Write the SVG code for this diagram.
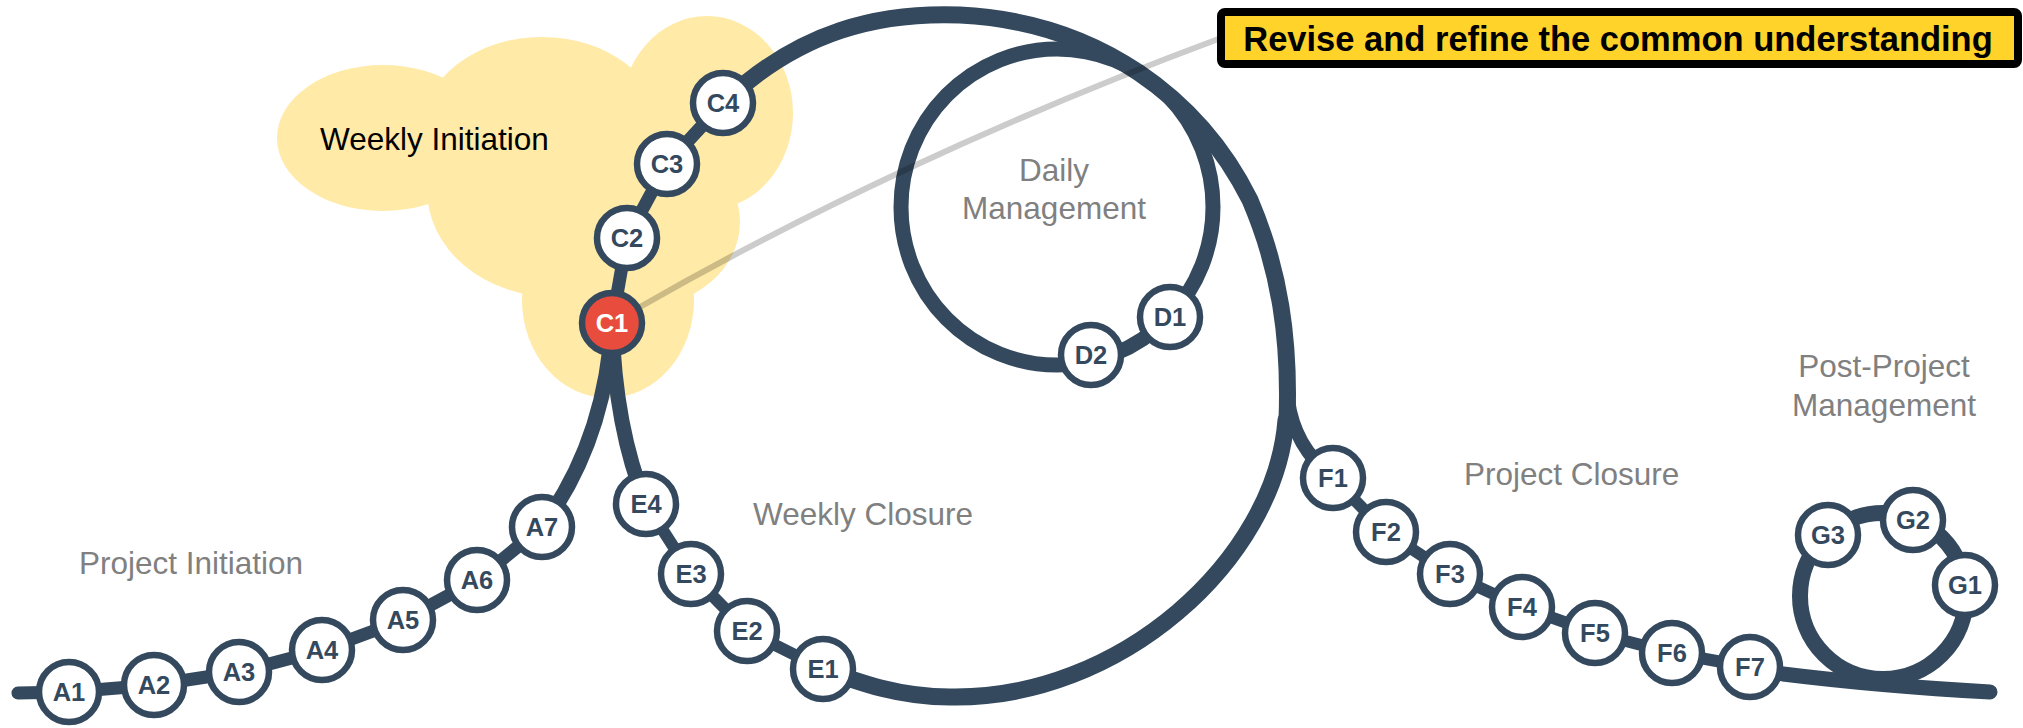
<svg xmlns="http://www.w3.org/2000/svg" width="2023" height="728" viewBox="0 0 2023 728">
<style>
.trk{fill:none;stroke:#34495E;stroke-linecap:round;stroke-linejoin:round}
.node circle{fill:#fff;stroke:#34495E;stroke-width:6.5}
.node text{font-family:"Liberation Sans",Arial,sans-serif;font-weight:bold;font-size:25.5px;fill:#34495E;text-anchor:middle}
.red circle{fill:#E74C3C}
.red text{fill:#fff}
.lbl{font-family:"Liberation Sans",Arial,sans-serif;font-size:31.5px;fill:#808080}
</style>
<rect width="2023" height="728" fill="#fff"/>
<g id="weekly-initiation-cloud" fill="#FFEAA7">
<ellipse cx="383" cy="138" rx="106" ry="73"/>
<ellipse cx="542" cy="130" rx="120" ry="93"/>
<ellipse cx="707" cy="113" rx="86" ry="97"/>
<ellipse cx="555" cy="190" rx="128" ry="107"/>
<ellipse cx="640" cy="222" rx="100" ry="85"/>
<ellipse cx="608" cy="300" rx="86" ry="98"/>
</g>
<g id="connectors">
<path class="trk" stroke-width="13" d="M18 693 L69 692 L154 685 L239 672 L322 650 L403 620 L477 580 L542 527"/>
<path class="trk" stroke-width="15" d="M542 527 C575 482 607 415 612 323"/>
<path class="trk" stroke-width="15" d="M612 323 C614 400 628 460 646 504"/>
<path class="trk" stroke-width="12" d="M646 504 L691 574 L747 631 L823 669"/>
<path class="trk" stroke-width="17" d="M823 669 C860 683 900 697 950 697 C1120 700 1275 560 1286 420"/>
<path class="trk" stroke-width="13" d="M612 323 L627 238 L667 164 L723 103"/>
<path class="trk" stroke-width="17" d="M723 103 C800 30 880 12 960 15 C1100 22 1200 100 1250 200 C1280 270 1290 340 1287 420"/>
<ellipse class="trk" stroke-width="15" cx="1057" cy="207" rx="156" ry="158"/>
<path class="trk" stroke-width="14" d="M1288 400 C1292 430 1305 455 1333 478"/>
<path class="trk" stroke-width="12" d="M1333 478 L1386 532 L1450 574 L1522 607 L1595 633 L1672 653 L1750 667"/>
<path class="trk" stroke-width="15" d="M1750 667 L1783 674 Q1880 686 1990 692"/>
<circle class="trk" stroke-width="16" cx="1883" cy="596" r="83"/>
<path fill="none" stroke="#000" stroke-opacity="0.2" stroke-width="6" d="M640 307 C800 215 1000 120 1221 38"/>
</g>
<g id="A1" class="node"><circle cx="69" cy="692" r="30"/><text x="69" y="701">A1</text></g>
<g id="A2" class="node"><circle cx="154" cy="685" r="30"/><text x="154" y="694">A2</text></g>
<g id="A3" class="node"><circle cx="239" cy="672" r="30"/><text x="239" y="681">A3</text></g>
<g id="A4" class="node"><circle cx="322" cy="650" r="30"/><text x="322" y="659">A4</text></g>
<g id="A5" class="node"><circle cx="403" cy="620" r="30"/><text x="403" y="629">A5</text></g>
<g id="A6" class="node"><circle cx="477" cy="580" r="30"/><text x="477" y="589">A6</text></g>
<g id="A7" class="node"><circle cx="542" cy="527" r="30"/><text x="542" y="536">A7</text></g>
<g id="C1" class="node red"><circle cx="612" cy="323" r="30"/><text x="612" y="332">C1</text></g>
<g id="C2" class="node"><circle cx="627" cy="238" r="30"/><text x="627" y="247">C2</text></g>
<g id="C3" class="node"><circle cx="667" cy="164" r="30"/><text x="667" y="173">C3</text></g>
<g id="C4" class="node"><circle cx="723" cy="103" r="30"/><text x="723" y="112">C4</text></g>
<g id="D1" class="node"><circle cx="1170" cy="317" r="30"/><text x="1170" y="326">D1</text></g>
<g id="D2" class="node"><circle cx="1091" cy="355" r="30"/><text x="1091" y="364">D2</text></g>
<g id="E4" class="node"><circle cx="646" cy="504" r="30"/><text x="646" y="513">E4</text></g>
<g id="E3" class="node"><circle cx="691" cy="574" r="30"/><text x="691" y="583">E3</text></g>
<g id="E2" class="node"><circle cx="747" cy="631" r="30"/><text x="747" y="640">E2</text></g>
<g id="E1" class="node"><circle cx="823" cy="669" r="30"/><text x="823" y="678">E1</text></g>
<g id="F1" class="node"><circle cx="1333" cy="478" r="30"/><text x="1333" y="487">F1</text></g>
<g id="F2" class="node"><circle cx="1386" cy="532" r="30"/><text x="1386" y="541">F2</text></g>
<g id="F3" class="node"><circle cx="1450" cy="574" r="30"/><text x="1450" y="583">F3</text></g>
<g id="F4" class="node"><circle cx="1522" cy="607" r="30"/><text x="1522" y="616">F4</text></g>
<g id="F5" class="node"><circle cx="1595" cy="633" r="30"/><text x="1595" y="642">F5</text></g>
<g id="F6" class="node"><circle cx="1672" cy="653" r="30"/><text x="1672" y="662">F6</text></g>
<g id="F7" class="node"><circle cx="1750" cy="667" r="30"/><text x="1750" y="676">F7</text></g>
<g id="G1" class="node"><circle cx="1965" cy="585" r="30"/><text x="1965" y="594">G1</text></g>
<g id="G2" class="node"><circle cx="1913" cy="520" r="30"/><text x="1913" y="529">G2</text></g>
<g id="G3" class="node"><circle cx="1828" cy="535" r="30"/><text x="1828" y="544">G3</text></g>
<g id="labels">
<text x="320" y="150" font-family="Liberation Sans, Arial, sans-serif" font-size="31.5" fill="#000">Weekly Initiation</text>
<text class="lbl" x="79" y="574">Project Initiation</text>
<text class="lbl" x="753" y="525">Weekly Closure</text>
<text class="lbl" x="1054" y="181" text-anchor="middle">Daily</text>
<text class="lbl" x="1054" y="219" text-anchor="middle">Management</text>
<text class="lbl" x="1464" y="485">Project Closure</text>
<text class="lbl" x="1884" y="377" text-anchor="middle">Post-Project</text>
<text class="lbl" x="1884" y="416" text-anchor="middle">Management</text>
</g>
<g id="callout">
<rect x="1221" y="12" width="797" height="52" rx="4" fill="#FFD32A" stroke="#000" stroke-width="8"/>
<text x="1618" y="51" text-anchor="middle" font-family="Liberation Sans, Arial, sans-serif" font-weight="bold" font-size="34.5" fill="#000">Revise and refine the common understanding</text>
</g>
</svg>
